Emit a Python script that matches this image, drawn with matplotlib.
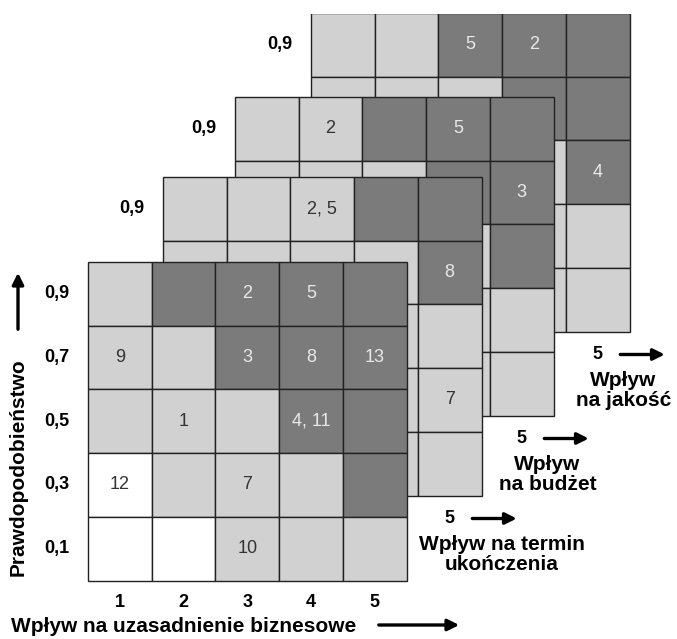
import matplotlib.pyplot as plt
from matplotlib.patches import Rectangle

plt.rcParams['font.family'] = ['Liberation Sans', 'DejaVu Sans']

# Poziomy: 0 = biały, 1 = jasnoszary, 2 = ciemnoszary (wiersze od 0,9 do 0,1)
grid_biznes = [
    [1, 2, 2, 2, 2],
    [1, 1, 2, 2, 2],
    [1, 1, 1, 2, 2],
    [0, 1, 1, 1, 2],
    [0, 0, 1, 1, 1],
]
grid_termin = [
    [1, 1, 1, 2, 2],
    [1, 1, 1, 1, 2],
    [0, 1, 1, 1, 1],
    [0, 0, 1, 1, 1],
    [0, 0, 0, 1, 1],
]
grid_budzet = [
    [1, 1, 2, 2, 2],
    [1, 1, 1, 2, 2],
    [1, 1, 1, 1, 2],
    [0, 1, 1, 1, 1],
    [0, 0, 1, 1, 1],
]
grid_jakosc = [
    [1, 1, 2, 2, 2],
    [1, 1, 1, 2, 2],
    [1, 1, 1, 1, 2],
    [0, 1, 1, 1, 1],
    [0, 0, 1, 1, 1],
]

# Numery ryzyk w komórkach: (wiersz, kolumna, tekst)
labels_biznes = [(0, 2, "2"), (0, 3, "5"), (1, 0, "9"), (1, 2, "3"), (1, 3, "8"),
                 (1, 4, "13"), (2, 1, "1"), (2, 3, "4, 11"), (3, 0, "12"),
                 (3, 2, "7"), (4, 2, "10")]
labels_termin = [(0, 2, "2, 5"), (1, 4, "8"), (3, 4, "7")]
labels_budzet = [(0, 1, "2"), (0, 3, "5"), (1, 4, "3")]
labels_jakosc = [(0, 2, "5"), (0, 3, "2"), (2, 4, "4")]

prob_labels = ["0,9", "0,7", "0,5", "0,3", "0,1"]
impact_labels = ["1", "2", "3", "4", "5"]

colors = {0: "white", 1: "#d1d1d1", 2: "#7b7b7b"}
text_colors = {0: "#333333", 1: "#333333", 2: "#e8e8e8"}

fig = plt.figure(figsize=(6.77, 6.39), dpi=100)
ax = fig.add_axes([0, 0, 1, 1])
ax.set_xlim(0, 677)
ax.set_ylim(639, 0)
ax.axis("off")

# obraz jest przycięty u góry - tylna siatka nie ma górnej krawędzi
clip = Rectangle((0, 13.8), 677, 639, transform=ax.transData)

cell = 63.7
arrow = dict(arrowstyle="-|>", lw=2.4, color="black", mutation_scale=17)
# lewy górny róg każdej siatki (od tylnej do przedniej)
layers = [
    (311, 13, grid_jakosc, labels_jakosc, "Wpływ\nna jakość"),
    (235, 97, grid_budzet, labels_budzet, "Wpływ\nna budżet"),
    (163, 177, grid_termin, labels_termin, "Wpływ na termin\nukończenia"),
    (88, 262, grid_biznes, labels_biznes, None),
]

for x0, y0, grid, labels, title in layers:
    for r in range(5):
        for c in range(5):
            p = ax.add_patch(Rectangle((x0 + c * cell, y0 + r * cell), cell, cell,
                                       facecolor=colors[grid[r][c]],
                                       edgecolor="#222222", lw=1.0))
            p.set_clip_path(clip)
    for r, c, t in labels:
        ax.text(x0 + (c + 0.5) * cell, y0 + (r + 0.5) * cell, t, ha="center",
                va="center", fontsize=13, color=text_colors[grid[r][c]])
    right = x0 + 5 * cell
    bottom = y0 + 5 * cell
    if title is None:
        # przednia siatka: pełne osie
        for r, lab in enumerate(prob_labels):
            ax.text(x0 - 31, y0 + (r + 0.5) * cell, lab, ha="center", va="center",
                    fontsize=13, fontweight="bold")
        for c, lab in enumerate(impact_labels):
            ax.text(x0 + (c + 0.5) * cell, bottom + 22, lab, ha="center",
                    va="center", fontsize=13, fontweight="bold")
    else:
        ax.text(x0 - 31, y0 + 0.5 * cell, prob_labels[0], ha="center", va="center",
                fontsize=13, fontweight="bold")
        ax.text(right - 0.5 * cell, bottom + 23, impact_labels[-1], ha="center",
                va="center", fontsize=13, fontweight="bold")
        ax.annotate("", xy=(right + 38, bottom + 23), xytext=(right - 12, bottom + 23),
                    arrowprops=arrow)
        tx = right + 20 if "termin" in title else right - 6
        ax.text(tx, bottom + 59, title, ha="center", va="center", fontsize=15,
                fontweight="bold", linespacing=1.0)

ax.text(184, 627, "Wpływ na uzasadnienie biznesowe", ha="center", va="center",
        fontsize=15, fontweight="bold")
ax.annotate("", xy=(462, 625), xytext=(376, 625), arrowprops=arrow)

ax.text(18, 467, "Prawdopodobieństwo", ha="center", va="center", rotation=90,
        fontsize=15, fontweight="bold")
ax.annotate("", xy=(18, 270), xytext=(18, 332), arrowprops=arrow)

plt.savefig("out.png", dpi=100)
